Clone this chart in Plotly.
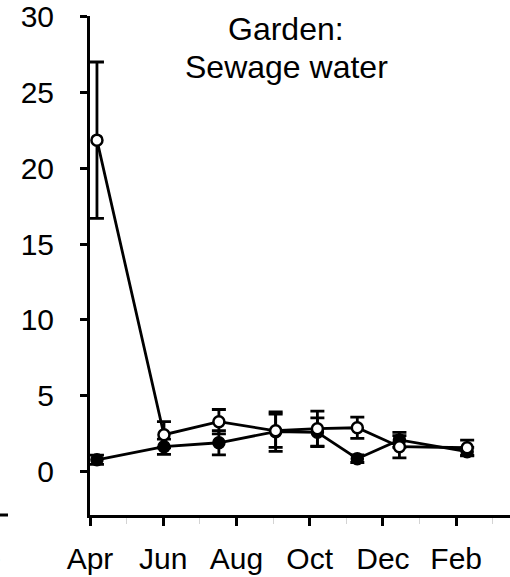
import plotly.graph_objects as go

# Sampling times, in months after 1 April
sample_month = [0.19, 2.02, 3.52, 5.07, 6.21, 7.3, 8.45, 10.3]

# Filled symbols
filled_mean = [0.79, 1.65, 1.91, 2.64, 2.6, 0.86, 2.1, 1.32]
filled_err = [0.3, 0.5, 0.8, 1.3, 0.95, 0.25, 0.5, 0.28]

# Open symbols
open_mean = [21.85, 2.44, 3.3, 2.7, 2.84, 2.9, 1.65, 1.58]
open_err = [5.15, 0.86, 0.8, 1.1, 1.15, 0.7, 0.73, 0.5]

tick_months = [0, 2, 4, 6, 8, 10]
tick_labels = ["Apr", "Jun", "Aug", "Oct", "Dec", "Feb"]
y_ticks = [0, 5, 10, 15, 20, 25, 30]

FONT = "Liberation Sans, Arial, sans-serif"

fig = go.Figure()

fig.add_trace(go.Scatter(
    x=sample_month, y=filled_mean, mode="lines+markers",
    line=dict(color="black", width=2.8),
    marker=dict(symbol="circle", size=12, color="black",
                line=dict(color="black", width=1.5)),
    error_y=dict(type="data", array=filled_err, visible=True,
                 color="black", thickness=2.8, width=7),
    showlegend=False,
))

fig.add_trace(go.Scatter(
    x=sample_month, y=open_mean, mode="lines+markers",
    line=dict(color="black", width=2.8),
    marker=dict(symbol="circle", size=11, color="white",
                line=dict(color="black", width=2.5)),
    error_y=dict(type="data", array=open_err, visible=True,
                 color="black", thickness=2.8, width=7),
    showlegend=False,
))

fig.update_xaxes(
    range=[0, 11.47], showgrid=False, zeroline=False, automargin=False,
    showline=True, linecolor="black", linewidth=3,
    tickmode="array", tickvals=tick_months, ticktext=tick_labels,
    ticks="outside", ticklen=8, tickwidth=2.5, tickcolor="black",
    ticklabelstandoff=7, ticklabeloverflow="allow",
    minor=dict(dtick=1, tick0=0, ticks="outside", ticklen=6,
               tickwidth=1, tickcolor="#d4d4d4"),
    tickfont=dict(family=FONT, size=30, color="black"),
)

fig.update_yaxes(
    range=[-2.85, 30.03], showgrid=False, zeroline=False, automargin=False,
    showline=True, linecolor="black", linewidth=3,
    tickmode="array", tickvals=y_ticks,
    ticks="outside", ticklen=7, tickwidth=2.5, tickcolor="black",
    ticklabelstandoff=20, ticklabeloverflow="allow",
    tickfont=dict(family=FONT, size=30, color="black"),
)

annotations = [
    dict(text="Garden:", x=0.467, y=0.974, xref="paper", yref="paper",
         xanchor="center", yanchor="middle", showarrow=False,
         font=dict(family=FONT, size=32, color="black")),
    dict(text="Sewage water", x=0.467, y=0.898, xref="paper", yref="paper",
         xanchor="center", yanchor="middle", showarrow=False,
         font=dict(family=FONT, size=32, color="black")),
    # last month label of the neighbouring panel on the left
    dict(text="Feb", x=(3 - 90) / 420, y=-0.085, xref="paper", yref="paper",
         xanchor="right", yanchor="middle", showarrow=False,
         font=dict(family=FONT, size=30, color="black")),
]

shapes = [
    # end of the neighbouring panel's x axis
    dict(type="line", xref="paper", yref="paper",
         x0=-90 / 420, x1=-82 / 420, y0=0, y1=0,
         line=dict(color="black", width=3)),
]

fig.update_layout(
    width=510, height=577,
    margin=dict(l=90, r=0, t=16, b=62, pad=0),
    paper_bgcolor="white", plot_bgcolor="white",
    annotations=annotations, shapes=shapes,
    font=dict(family=FONT, color="black"),
)

fig.write_html("out.html")
